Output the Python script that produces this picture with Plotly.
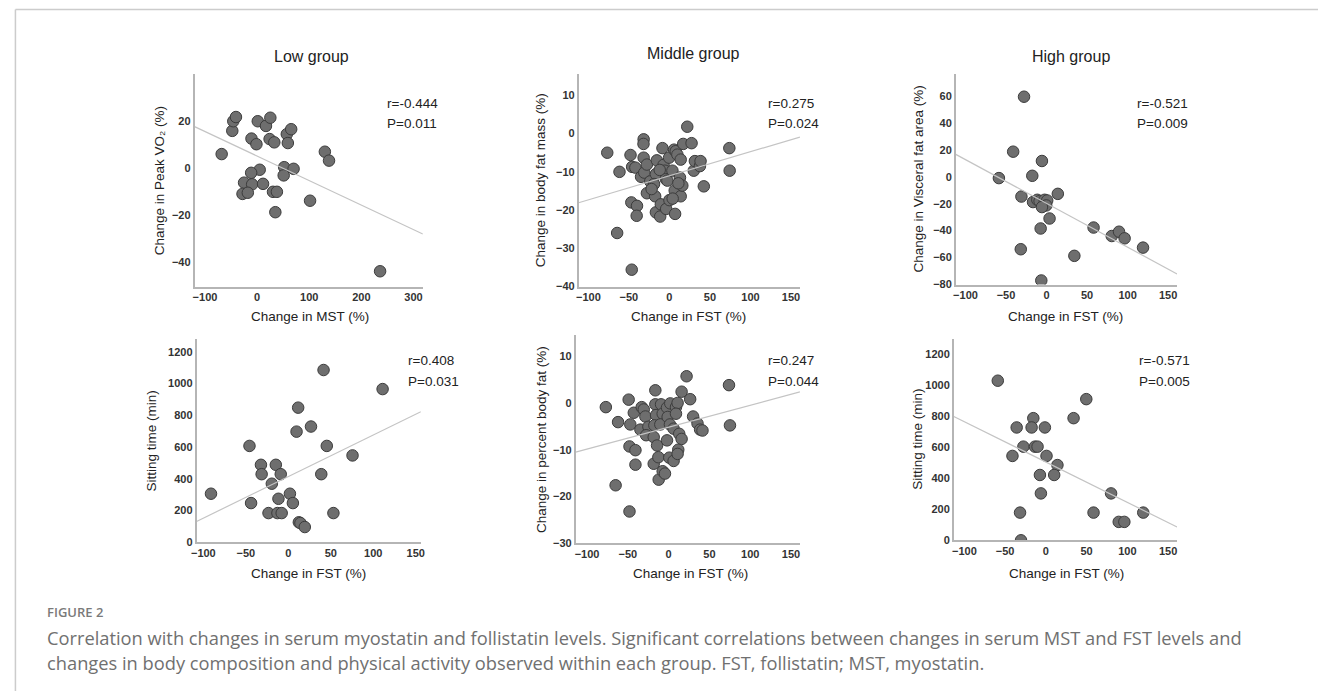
import numpy as np
import plotly.graph_objects as go

W, H = 1322, 697

# ---------------- data ----------------
low_mst_x = [-68, -47.6, -45.7, -40.6, 1.3, 17, 25.4, -10.8, -1.3, 24, 33, 57, 65.4, 59,
             130, 138, 52, 70, 51, 5, -11.4, -25, -9.5, 11.4, -28, -17.8, 30.5, 38, 35, 101.6, 236]
low_vo2_y = [6.0, 15.9, 20, 21.8, 20, 18, 21.5, 12.6, 10.2, 12.4, 11, 14.5, 16.6, 10.7,
             7.0, 3.2, 0.4, -0.3, -3.1, -0.7, -2, -6.2, -6.9, -6.7, -11, -10.5, -10.1, -10.1, -18.8, -13.9, -44]

mid_fst_x1 = [-76.7, -61.6, -48, -46, -42, -31.8, -32, -31.8, -35, -31, -27.8, -23.7, -27.8, -47, -40,
              -40.4, -64.5, -46.5, -15.5, -16.7, -19, -17.6, -16.7, -11.4, -8.6, -7.3, -5.7, -4.5, -2.5,
              -0.4, -10.6, -4, 0, 3.7, 6.5, 7, 5.7, 7.8, 9.8, 13, 13.9, 13.9, 15.9, 17, 22, 27.3, 30,
              31.4, 37.6, 38.4, 42.4, 73.9, 74.3, -12, 4, 11, -22]
mid_fatmass_y = [-5, -10, -5.6, -8.7, -8.9, -1.5, -2.7, -6.3, -11.3, -10.2, -8.1, -12.5, -15.6, -18, -18.9,
                 -21.5, -26, -35.6, -7, -10.6, -13.2, -16.4, -20.6, -21.7, -3.8, -8.2, -9.7, -11.9, -12.3,
                 -6.3, -18.5, -19.7, -17.4, -9.7, -14.9, -21, -4.2, -4.6, -5.5, -11.5, -6.8, -16.4, -13.6,
                 -2.7, 1.8, -2.5, -9.7, -7.2, -8.5, -7.2, -13.8, -3.8, -9.7, -9.5, -17, -13, -14.5]

high_fst_x1 = [-27.8, -41.2, -5.7, -17.6, -58.8, -31, 13.9, -16.7, -11.4, -8.6, -2.4, 0.8, -0.4, -5.7,
               3.7, -7.3, -31.8, 34.3, -6.5, 58, 80.4, 89.4, 96.3, 119]
high_vfa_y = [59.4, 18.6, 11.7, 0.7, -1, -14.7, -12.7, -18.8, -17.1, -18.1, -17.1, -17.6, -21.3, -22.5,
              -31, -38.4, -53.8, -58.7, -77, -37.7, -44, -40.8, -45.7, -52.6]

low_fst_x = [-91, -45.7, -43.8, -32.2, -31.4, -19.4, -23.3, -14.7, -12.8, -11.6, -8.9, -7.8, 1.9, 5.4,
             9.7, 11.6, 12.4, 14.3, 19.4, 26.7, 38.8, 41.5, 45.3, 53.1, 75.6, 111]
low_sit_y = [306, 607, 247, 488, 429, 369, 184, 488, 184, 274, 429, 184, 306, 247,
             697, 848, 126, 121, 96, 729, 429, 1085, 607, 184, 547, 965]

mid_fst_x2 = [-77, -62, -49, -47, -48, -40.7, -40.7, -65, -48, -42.7, -33, -30.5, -28.5, -34.6, -24.8,
              -27.6, -16.3, -16.3, -15.4, -17.5, -18.3, -14.2, -18.3, -12.6, -12.2, -7.3, -4.5, -9.3,
              -7.3, -10.2, -2, 2, -1.2, 1.6, -2, 0.8, 6.1, 6.1, 9, 11, 13, 15.9, 11.8, 11, 15.9, 22,
              26.4, 30, 35.4, 38.6, 41.5, 74, 75.2, 9]
mid_pbf_y = [-0.9, -4.1, 0.7, -4.6, -9.3, -10.1, -13.2, -17.6, -23.2, -2.1, -0.9, -1.4, -2.9, -5.7, -5.1,
             -6.9, 2.7, -0.3, -2.6, -4.8, -7.3, -9.1, -13, -11.6, -16.4, -14.6, -15.1, -0.3,
             -2.3, -4.6, -1, -0.1, -3, -4.6, -8, -11.7, -5.5, -12.4, -0.9, 0, -6.6, -7.7, -10, -10.9, 2.4, 5.7,
             0.8, -2.9, -4.4, -5.7, -5.9, 3.8, -4.8, -2.3]

high_fst_x2 = [-59, -35.8, -41, -27.6, -15.4, -17.5, -13.4, -10.2, -1.2, 0.8, 14.2, -7.3, 10.2, -6.1,
               -31.7, -30.5, 34, 49.6, 80, 58.5, 89.4, 96.3, 119.5]
high_sit_y = [1031, 729, 545, 605, 789, 729, 605, 605, 729, 545, 486, 422, 422, 303,
              179, 0, 789, 912, 303, 179, 119, 119, 179]

panel_titles = ["Low group", "Middle group", "High group"]
x_titles = ["Change in MST (%)", "Change in FST (%)", "Change in FST (%)",
            "Change in FST (%)", "Change in FST (%)", "Change in FST (%)"]
y_titles = ["Change in Peak VO₂ (%)", "Change in body fat mass (%)",
            "Change in Visceral fat area (%)", "Sitting time (min)",
            "Change in percent body fat (%)", "Sitting time (min)"]
r_values = ["r=-0.444", "r=0.275", "r=-0.521", "r=0.408", "r=0.247", "r=-0.571"]
p_values = ["P=0.011", "P=0.024", "P=0.009", "P=0.031", "P=0.044", "P=0.005"]
fit_slope = [-0.1046, 0.063, -0.325, 2.62, 0.0468, -2.606]
fit_intercept = [5.15, -11.04, -19.8, 414, -5.17, 505.5]

x_ranges = [[-120, 318], [-112, 161], [-112, 161], [-108, 156], [-114, 161], [-113, 161]]
y_ranges = [[-50.5, 40], [-40, 15.5], [-80, 76], [0, 1280], [-30, 14.5], [0, 1300]]
x_ticks = [[-100, 0, 100, 200, 300]] + [[-100, -50, 0, 50, 100, 150]] * 5
y_ticks = [[-40, -20, 0, 20], [-40, -30, -20, -10, 0, 10], [-80, -60, -40, -20, 0, 20, 40, 60],
           [0, 200, 400, 600, 800, 1000, 1200], [-30, -20, -10, 0, 10], [0, 200, 400, 600, 800, 1000, 1200]]

xs = [low_mst_x, mid_fst_x1, high_fst_x1, low_fst_x, mid_fst_x2, high_fst_x2]
ys = [low_vo2_y, mid_fatmass_y, high_vfa_y, low_sit_y, mid_pbf_y, high_sit_y]

# -------------- layout geometry (pixels) --------------
px_x = [(190, 420), (577, 800), (957, 1180), (192, 418), (574, 800), (955, 1180)]
px_y = [(75, 289), (75, 289), (75, 287), (342, 547), (338, 548), (342, 545)]
ytitle_x = [155, 539, 919, 147, 539, 919]
xtitle_pos = [(306, 319), (688, 319), (1068, 319), (305, 578), (690, 578), (1069, 578)]
stat_pos = [(382, 104), (766, 104), (1138, 104), (403, 364), (766, 364), (1140, 364)]
title_pos = [(308, 57), (693, 54), (1073, 57)]


def px(x):
    return x / W


def py(y):
    return 1 - y / H


fig = go.Figure()
FONT = "Liberation Sans, Arial, sans-serif"
annotations = []
for i in range(6):
    ax = "" if i == 0 else str(i + 1)
    fig.add_trace(go.Scatter(
        x=xs[i], y=ys[i], mode="markers", xaxis="x" + ax, yaxis="y" + ax,
        marker=dict(size=11.5, color="#6e6e6e", line=dict(color="#3c3c3c", width=1)),
        showlegend=False, hoverinfo="x+y"))
    lx = np.array(x_ranges[i], dtype=float)
    fig.add_trace(go.Scatter(
        x=lx, y=fit_intercept[i] + fit_slope[i] * lx, mode="lines",
        xaxis="x" + ax, yaxis="y" + ax,
        line=dict(color="#c4c4c4", width=1.2), showlegend=False, hoverinfo="skip"))
    fig.update_layout(**{
        "xaxis" + ax: dict(domain=[px(px_x[i][0]), px(px_x[i][1])], range=x_ranges[i],
                           tickvals=x_ticks[i], showgrid=False, zeroline=False,
                           showline=True, linecolor="#b5b5b5", linewidth=1.5, ticks="",
                           anchor="y" + ax, fixedrange=True,
                           tickfont=dict(family=FONT, size=11, color="#333", weight="bold")),
        "yaxis" + ax: dict(domain=[py(px_y[i][1]), py(px_y[i][0])], range=y_ranges[i],
                           tickvals=y_ticks[i], showgrid=False, zeroline=False,
                           showline=True, linecolor="#b5b5b5", linewidth=1.5, ticks="",
                           anchor="x" + ax, fixedrange=True,
                           tickfont=dict(family=FONT, size=11, color="#333", weight="bold")),
    })
    annotations.append(dict(x=px(ytitle_x[i]), y=py((px_y[i][0] + px_y[i][1]) / 2),
                            xref="paper", yref="paper", text=y_titles[i], textangle=-90,
                            showarrow=False, font=dict(family=FONT, size=13.5, color="#222"),
                            xanchor="center", yanchor="middle"))
    annotations.append(dict(x=px(xtitle_pos[i][0]), y=py(xtitle_pos[i][1]),
                            xref="paper", yref="paper", text=x_titles[i],
                            showarrow=False, font=dict(family=FONT, size=13.5, color="#222"),
                            xanchor="center", yanchor="middle"))
    annotations.append(dict(x=px(stat_pos[i][0]), y=py(stat_pos[i][1]),
                            xref="paper", yref="paper", text=r_values[i],
                            showarrow=False, font=dict(family=FONT, size=13.5, color="#222"),
                            xanchor="left", yanchor="middle"))
    annotations.append(dict(x=px(stat_pos[i][0]), y=py(stat_pos[i][1] + 21),
                            xref="paper", yref="paper", text=p_values[i],
                            showarrow=False, font=dict(family=FONT, size=13.5, color="#222"),
                            xanchor="left", yanchor="middle"))

for t, (tx, ty) in zip(panel_titles, title_pos):
    annotations.append(dict(x=px(tx), y=py(ty), xref="paper", yref="paper", text=t,
                            showarrow=False, font=dict(family=FONT, size=16, color="#222"),
                            xanchor="center", yanchor="middle"))

CAP = "Open Sans, Noto Sans, sans-serif"
annotations.append(dict(x=px(39), y=py(617), xref="paper", yref="paper", text="FIGURE 2",
                        showarrow=False, font=dict(family=CAP, size=13, color="#7a7a7a", weight=600),
                        xanchor="left", yanchor="middle"))
annotations.append(dict(x=px(39), y=py(643), xref="paper", yref="paper",
                        text="Correlation with changes in serum myostatin and follistatin levels. Significant correlations between changes in serum MST and FST levels and",
                        showarrow=False, font=dict(family=CAP, size=18.3, color="#707070"),
                        xanchor="left", yanchor="middle"))
annotations.append(dict(x=px(39), y=py(668), xref="paper", yref="paper",
                        text="changes in body composition and physical activity observed within each group. FST, follistatin; MST, myostatin.",
                        showarrow=False, font=dict(family=CAP, size=18.3, color="#707070"),
                        xanchor="left", yanchor="middle"))

shapes = [
    dict(type="line", xref="paper", yref="paper", x0=px(9.5), x1=1, y0=py(9.5), y1=py(9.5),
         line=dict(color="#cccccc", width=1.5)),
    dict(type="line", xref="paper", yref="paper", x0=px(9.5), x1=px(9.5), y0=0, y1=py(9.5),
         line=dict(color="#cccccc", width=1.5)),
]

fig.update_layout(width=W, height=H, margin=dict(l=0, r=0, t=0, b=0),
                  paper_bgcolor="white", plot_bgcolor="white",
                  annotations=annotations, shapes=shapes, showlegend=False)

fig.write_html("out.html", config={"displayModeBar": False},
               post_script="document.body.style.margin='0px';document.body.style.overflow='hidden';")
